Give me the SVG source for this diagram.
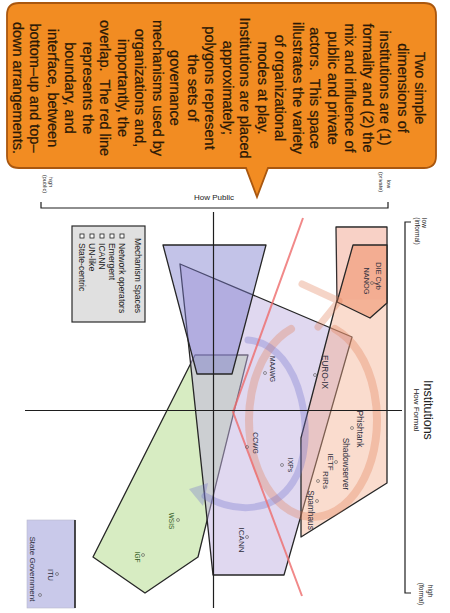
<svg xmlns="http://www.w3.org/2000/svg" width="450" height="613" viewBox="0 0 450 613">
<style>
  .sans{font-family:"Liberation Sans",Arial,sans-serif}
  .edge{stroke:#262626;stroke-width:1.3;stroke-linejoin:round}
  .axis{stroke:#1e1e1e;stroke-width:1.2;fill:none}
  .mk{fill:none;stroke:#555;stroke-width:0.6}
  .lbl{font-family:"Liberation Sans",Arial,sans-serif;fill:#2d2d3c;text-anchor:middle;dominant-baseline:central}
  .glbl{font-family:"Liberation Sans",Arial,sans-serif;fill:#2f5a1c;text-anchor:middle;dominant-baseline:central}
  .ax{font-family:"Liberation Sans",Arial,sans-serif;fill:#222;text-anchor:middle;dominant-baseline:central}
</style>
<rect width="450" height="613" fill="#ffffff"/>

<!-- mechanism spaces (polygons) -->
<g id="state-centric">
  <polygon class="edge" points="195,355 248,355 198,557 145,593 93,557" fill="#b6dc90" fill-opacity="0.55"/>
</g>
<g id="icann-space">
  <polygon class="edge" points="180,264 352,337 284,575 213,575" fill="#c2b2e2" fill-opacity="0.5"/>
</g>
<g id="un-like">
  <polygon class="edge" points="163,245 266,245 232,374 197,374" fill="#7a7acc" fill-opacity="0.45"/>
</g>
<g id="emergent">
  <polygon class="edge" points="336,227 387,227 387,483 301,537 301,438 337,300" fill="#f4ac8a" fill-opacity="0.42"/>
  <rect x="336.6" y="227.6" width="49.8" height="72" fill="#f0a0a8" fill-opacity="0.18"/>
</g>
<g id="network-operators">
  <polygon class="edge" points="353,245 387,245 387,303 370,318 337,302" fill="#ef9068" fill-opacity="0.55"/>
</g>

<!-- bottom-up / top-down cycles -->
<g id="cycles" fill="none" stroke-linecap="round">
  <path d="M291,329 A64,97 0 1 0 335,329" stroke="#e2805c" stroke-opacity="0.34" stroke-width="8"/>
  <path d="M302,284 L339,301 L318,327" fill="none" stroke="#e2805c" stroke-opacity="0.34" stroke-width="7" stroke-linejoin="round"/>
  <path d="M248,340 C305,345 318,445 293,482 C272,515 232,512 205,496" stroke="#7474cc" stroke-opacity="0.34" stroke-width="7"/>
  <polygon points="189,489 208,483 203,506" fill="#7474cc" fill-opacity="0.34"/>
</g>

<!-- boundary between bottom-up and top-down -->
<g id="boundary">
  <polyline points="303,218 233,412 302,596" fill="none" stroke="#ee6b6b" stroke-opacity="0.8" stroke-width="2"/>
</g>

<!-- axes and brackets -->
<g id="connectors">
  <line class="axis" x1="213.5" y1="212" x2="213.5" y2="608"/>
  <line class="axis" x1="25" y1="410.5" x2="402" y2="410.5"/>
  <polyline class="axis" points="41,202 41,208 388,208 388,202"/>
  <polyline class="axis" points="411,222 405,222 405,593 411,593"/>
</g>

<!-- legend -->
<g id="legend">
  <rect x="72" y="226" width="73" height="96" fill="#e0e0e0" stroke="#2a2a2a" stroke-width="1.2"/>
  <g fill="#fafafa" stroke="#222" stroke-width="0.8">
    <rect x="120" y="234" width="4" height="4"/>
    <rect x="110" y="234" width="4" height="4"/>
    <rect x="100" y="234" width="4" height="4"/>
    <rect x="90" y="234" width="4" height="4"/>
    <rect x="80" y="234" width="4" height="4"/>
  </g>
</g>

<!-- state government box -->
<g id="state-government">
  <rect x="27" y="520" width="48" height="88" fill="#c9c9ea" stroke="#b8b8cc" stroke-width="0.6"/>
  <line x1="75" y1="520" x2="75" y2="608" stroke="#222" stroke-width="1.6"/>
</g>

<!-- institution markers -->
<g id="markers">
  <circle class="mk" cx="372" cy="283" r="1.5"/>
  <circle class="mk" cx="352" cy="428" r="1.5"/>
  <circle class="mk" cx="336" cy="462" r="1.5"/>
  <circle class="mk" cx="318" cy="481" r="1.5"/>
  <circle class="mk" cx="317" cy="501" r="1.5"/>
  <circle class="mk" cx="315" cy="375" r="1.5"/>
  <circle class="mk" cx="265" cy="373" r="1.5"/>
  <circle class="mk" cx="247" cy="447" r="1.5"/>
  <circle class="mk" cx="282" cy="465" r="1.5"/>
  <circle class="mk" cx="247" cy="537" r="1.5"/>
  <circle class="mk" cx="178" cy="520" r="1.5"/>
  <circle class="mk" cx="143" cy="555" r="1.5"/>
  <circle class="mk" cx="57" cy="574" r="1.5"/>
  <circle class="mk" cx="40" cy="595" r="1.5"/>
</g>

<!-- vertical axis title -->
<text class="ax" x="214" y="197" font-size="8">How Public</text>

<!-- callout -->
<g id="callout">
  <path d="M19,3 H424 Q436,3 436,15 V156 Q436,168 424,168 H268 L257,197 L246,168 H19 Q7,168 7,156 V15 Q7,3 19,3 Z" fill="#f28c22" stroke="#a9570f" stroke-width="1.8"/>
</g>

<!-- all remaining text runs along the page height -->
<g transform="translate(450 0) rotate(90)">
  <text class="sans" x="88" y="30" font-size="14.5" fill="#2a1806" stroke="#2a1806" stroke-width="0.25" text-anchor="middle" dominant-baseline="central"><tspan x="88">Two simple</tspan><tspan x="88" dy="17.5">dimensions of</tspan><tspan x="88" dy="17.5">institutions are (1)</tspan><tspan x="88" dy="17.5">formality and (2) the</tspan><tspan x="88" dy="17.5">mix and influence of</tspan><tspan x="88" dy="17.5">public and private</tspan><tspan x="88" dy="17.5">actors. &#160;This space</tspan><tspan x="88" dy="17.5">illustrates the variety</tspan><tspan x="88" dy="17.5">of organizational</tspan><tspan x="88" dy="17.5">modes at play.</tspan><tspan x="88" dy="17.5">Institutions are placed</tspan><tspan x="88" dy="17.5">approximately;</tspan><tspan x="88" dy="17.5">polygons represent</tspan><tspan x="88" dy="17.5">the sets of</tspan><tspan x="88" dy="17.5">governance</tspan><tspan x="88" dy="17.5">mechanisms used by</tspan><tspan x="88" dy="17.5">organizations and,</tspan><tspan x="88" dy="17.5">importantly, the</tspan><tspan x="88" dy="17.5">overlap. &#160;The red line</tspan><tspan x="88" dy="17.5">represents the</tspan><tspan x="88" dy="17.5">boundary, and</tspan><tspan x="88" dy="17.5">interface, between</tspan><tspan x="88" dy="17.5">bottom–up and top–</tspan><tspan x="88" dy="17.5">down arrangements.</tspan></text>

  <!-- axis labels -->
  <text class="ax" x="182" y="399.5" font-size="5.5">high</text>
  <text class="ax" x="184" y="405.5" font-size="5.5">(public)</text>
  <text class="ax" x="184" y="61" font-size="5.5">low</text>
  <text class="ax" x="182" y="69" font-size="5.5">(private)</text>
  <text class="ax" x="223" y="26" font-size="6.5">low</text>
  <text class="ax" x="231" y="33" font-size="6.5">(informal)</text>
  <text class="ax" x="410" y="22" font-size="12.5">Institutions</text>
  <text class="ax" x="410" y="33.5" font-size="8">How Formal</text>
  <text class="ax" x="591" y="20" font-size="6.5">high</text>
  <text class="ax" x="594" y="28.5" font-size="6.5">(formal)</text>

  <!-- legend text -->
  <g class="sans" font-size="8.6" fill="#222" dominant-baseline="central">
    <text x="238" y="312.5">Mechanism Spaces</text>
    <text x="243" y="328">Network operators</text>
    <text x="243" y="338">Emergent</text>
    <text x="243" y="348">ICANN</text>
    <text x="243" y="358">UN-like</text>
    <text x="243" y="368">State-centric</text>
  </g>

  <!-- institution labels -->
  <text class="lbl" x="276" y="72" font-size="7.4">DIE Cyb</text>
  <text class="lbl" x="281" y="84" font-size="7.4">NANOG</text>
  <text class="lbl" x="429" y="90.5" font-size="8.4">Phishtank</text>
  <text class="lbl" x="464" y="105" font-size="8.2">Shadowserver</text>
  <text class="lbl" x="462" y="120" font-size="8">IETF</text>
  <text class="lbl" x="480" y="125" font-size="8">RIRs</text>
  <text class="lbl" x="510" y="139" font-size="8.3">Spamhaus</text>
  <text class="lbl" x="372" y="125.5" font-size="8.2">EURO-IX</text>
  <text class="lbl" x="369" y="178" font-size="6.8">MAAWG</text>
  <text class="lbl" x="443" y="194.5" font-size="6.8">CCWG</text>
  <text class="lbl" x="465" y="159.5" font-size="6.8">IXPs</text>
  <text class="lbl" x="540" y="208.5" font-size="8">ICANN</text>
  <text class="glbl" x="521" y="279" font-size="6.5">WSIS</text>
  <text class="glbl" x="557" y="312.5" font-size="6.5">IGF</text>
  <text class="lbl" x="575" y="399.5" font-size="7.5">ITU</text>
  <text class="lbl" x="569" y="417.5" font-size="8">State Government</text>
</g>
</svg>
